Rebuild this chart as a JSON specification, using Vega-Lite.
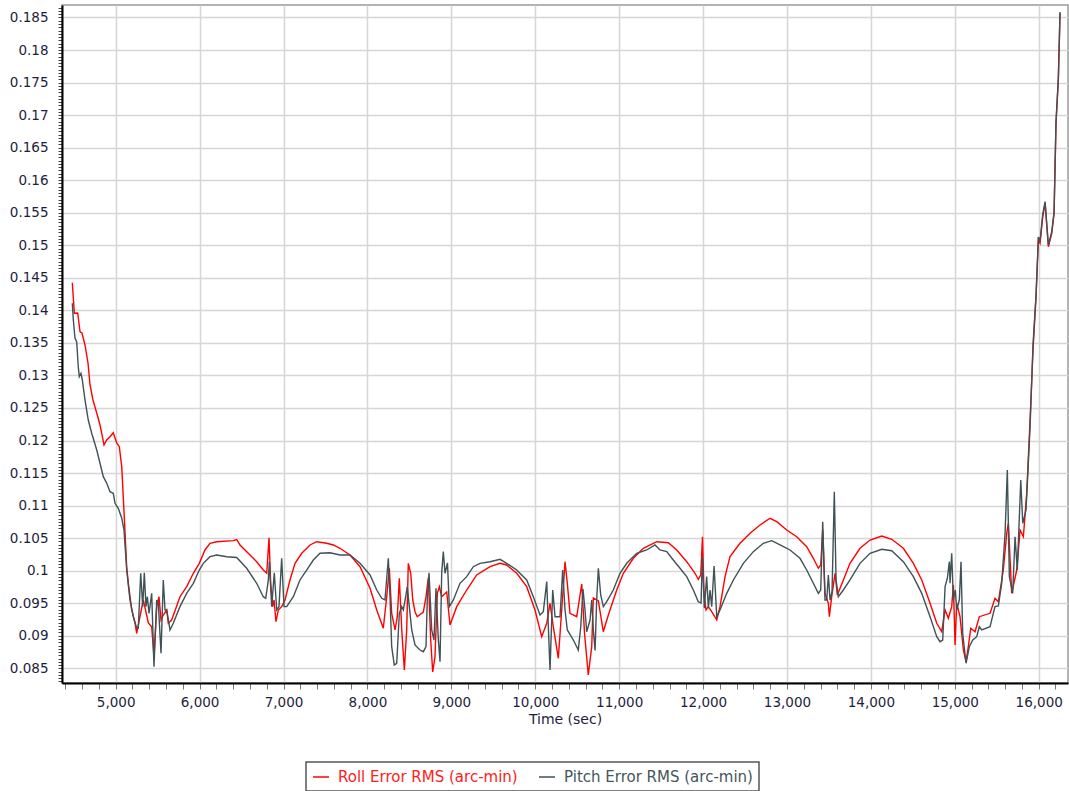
{
  "$schema": "https://vega.github.io/schema/vega-lite/v6.json",
  "width": 1006,
  "height": 678,
  "autosize": {"type": "none"},
  "padding": {"left": 62, "top": 5, "right": 1, "bottom": 108},
  "background": "white",
  "config": {
    "view": {"stroke": "#9a9a9a", "strokeWidth": 1.5},
    "font": "DejaVu Sans",
    "legend": {"strokeWidth": 1.5}
  },
  "datasets": {
    "roll": [
      {"t":4483,"v":0.14425},{"t":4507,"v":0.13955},{"t":4547,"v":0.1396},{"t":4575,"v":0.1367},{"t":4598,"v":0.13652},{"t":4634,"v":0.13468},{"t":4670,"v":0.13191},{"t":4694,"v":0.12853},{"t":4729,"v":0.12623},{"t":4774,"v":0.12423},{"t":4813,"v":0.12238},{"t":4837,"v":0.12085},{"t":4861,"v":0.11931},{"t":4893,"v":0.12008},{"t":4932,"v":0.12059},{"t":4971,"v":0.1212},{"t":5012,"v":0.11962},{"t":5043,"v":0.11905},{"t":5072,"v":0.11598},{"t":5102,"v":0.1083},{"t":5131,"v":0.10061},{"t":5150,"v":0.09811},{"t":5191,"v":0.09396},{"t":5230,"v":0.09196},{"t":5250,"v":0.09038},{"t":5281,"v":0.09242},{"t":5329,"v":0.0955},{"t":5389,"v":0.09196},{"t":5429,"v":0.09139},{"t":5456,"v":0.08678},{"t":5489,"v":0.09447},{"t":5516,"v":0.096},{"t":5540,"v":0.09242},{"t":5567,"v":0.09319},{"t":5608,"v":0.09396},{"t":5627,"v":0.09191},{"t":5667,"v":0.09242},{"t":5766,"v":0.096},{"t":5846,"v":0.09754},{"t":5925,"v":0.0996},{"t":5996,"v":0.10113},{"t":6064,"v":0.10318},{"t":6124,"v":0.10421},{"t":6204,"v":0.10445},{"t":6402,"v":0.10461},{"t":6442,"v":0.10479},{"t":6481,"v":0.10395},{"t":6580,"v":0.10267},{"t":6680,"v":0.10138},{"t":6759,"v":0.1001},{"t":6800,"v":0.0996},{"t":6827,"v":0.10507},{"t":6847,"v":0.09811},{"t":6871,"v":0.09447},{"t":6887,"v":0.0955},{"t":6910,"v":0.09216},{"t":6938,"v":0.09396},{"t":6978,"v":0.09447},{"t":7018,"v":0.0955},{"t":7077,"v":0.09857},{"t":7137,"v":0.10113},{"t":7217,"v":0.10267},{"t":7316,"v":0.10395},{"t":7395,"v":0.10445},{"t":7515,"v":0.10421},{"t":7593,"v":0.10395},{"t":7673,"v":0.10344},{"t":7792,"v":0.10241},{"t":7912,"v":0.10061},{"t":8031,"v":0.09729},{"t":8111,"v":0.09396},{"t":8189,"v":0.09115},{"t":8230,"v":0.096},{"t":8261,"v":0.10037},{"t":8289,"v":0.09345},{"t":8329,"v":0.09089},{"t":8356,"v":0.09293},{"t":8380,"v":0.09883},{"t":8409,"v":0.09089},{"t":8440,"v":0.08474},{"t":8468,"v":0.09089},{"t":8487,"v":0.10113},{"t":8516,"v":0.0996},{"t":8540,"v":0.0955},{"t":8567,"v":0.0937},{"t":8594,"v":0.09293},{"t":8666,"v":0.09365},{"t":8698,"v":0.096},{"t":8726,"v":0.09888},{"t":8754,"v":0.08935},{"t":8778,"v":0.08443},{"t":8805,"v":0.08678},{"t":8833,"v":0.09652},{"t":8857,"v":0.09754},{"t":8885,"v":0.096},{"t":8945,"v":0.09672},{"t":8984,"v":0.09165},{"t":9064,"v":0.09447},{"t":9183,"v":0.09703},{"t":9302,"v":0.09934},{"t":9461,"v":0.10061},{"t":9580,"v":0.10113},{"t":9660,"v":0.10087},{"t":9779,"v":0.0996},{"t":9898,"v":0.09754},{"t":9997,"v":0.09396},{"t":10077,"v":0.08986},{"t":10137,"v":0.09191},{"t":10176,"v":0.09499},{"t":10215,"v":0.09139},{"t":10275,"v":0.08654},{"t":10315,"v":0.09396},{"t":10355,"v":0.10138},{"t":10382,"v":0.09806},{"t":10414,"v":0.09345},{"t":10494,"v":0.09293},{"t":10554,"v":0.09795},{"t":10587,"v":0.09042},{"t":10632,"v":0.08397},{"t":10673,"v":0.08832},{"t":10692,"v":0.0958},{"t":10752,"v":0.09534},{"t":10811,"v":0.09062},{"t":10871,"v":0.09319},{"t":10971,"v":0.09703},{"t":11050,"v":0.0996},{"t":11169,"v":0.1019},{"t":11288,"v":0.10344},{"t":11448,"v":0.10445},{"t":11586,"v":0.1043},{"t":11686,"v":0.10318},{"t":11805,"v":0.10138},{"t":11904,"v":0.0996},{"t":11943,"v":0.09868},{"t":11972,"v":0.09934},{"t":11993,"v":0.10522},{"t":12011,"v":0.09652},{"t":12035,"v":0.09396},{"t":12063,"v":0.09447},{"t":12103,"v":0.0937},{"t":12163,"v":0.09242},{"t":12202,"v":0.09447},{"t":12262,"v":0.09908},{"t":12321,"v":0.10215},{"t":12440,"v":0.10421},{"t":12560,"v":0.10574},{"t":12679,"v":0.10702},{"t":12798,"v":0.10805},{"t":12878,"v":0.10753},{"t":12997,"v":0.10625},{"t":13116,"v":0.10522},{"t":13235,"v":0.10368},{"t":13314,"v":0.1019},{"t":13374,"v":0.10037},{"t":13402,"v":0.10087},{"t":13426,"v":0.10625},{"t":13453,"v":0.09652},{"t":13493,"v":0.09499},{"t":13505,"v":0.09293},{"t":13533,"v":0.096},{"t":13573,"v":0.0996},{"t":13600,"v":0.09626},{"t":13672,"v":0.09857},{"t":13751,"v":0.10113},{"t":13870,"v":0.10344},{"t":13990,"v":0.10471},{"t":14129,"v":0.10533},{"t":14248,"v":0.10482},{"t":14387,"v":0.10344},{"t":14506,"v":0.10113},{"t":14606,"v":0.09857},{"t":14705,"v":0.09499},{"t":14785,"v":0.09191},{"t":14844,"v":0.09062},{"t":14884,"v":0.09396},{"t":14923,"v":0.09268},{"t":14963,"v":0.09447},{"t":14983,"v":0.0978},{"t":15003,"v":0.08858},{"t":15023,"v":0.09499},{"t":15062,"v":0.09293},{"t":15102,"v":0.08781},{"t":15134,"v":0.08601},{"t":15161,"v":0.08832},{"t":15190,"v":0.09115},{"t":15241,"v":0.09062},{"t":15292,"v":0.09293},{"t":15420,"v":0.09345},{"t":15479,"v":0.09576},{"t":15519,"v":0.09523},{"t":15578,"v":0.1001},{"t":15619,"v":0.10574},{"t":15638,"v":0.10728},{"t":15678,"v":0.09652},{"t":15738,"v":0.1001},{"t":15778,"v":0.10625},{"t":15817,"v":0.10522},{"t":15857,"v":0.11189},{"t":15897,"v":0.12315},{"t":15932,"v":0.13391},{"t":15968,"v":0.14205},{"t":15996,"v":0.15081},{"t":16016,"v":0.1503},{"t":16048,"v":0.15439},{"t":16076,"v":0.15645},{"t":16115,"v":0.14978},{"t":16155,"v":0.15184},{"t":16183,"v":0.15491},{"t":16206,"v":0.16874},{"t":16234,"v":0.1754},{"t":16254,"v":0.18565}
    ],
    "pitch": [
      {"t":4483,"v":0.14109},{"t":4495,"v":0.13852},{"t":4515,"v":0.13571},{"t":4535,"v":0.13518},{"t":4554,"v":0.13134},{"t":4566,"v":0.12981},{"t":4586,"v":0.13033},{"t":4602,"v":0.1293},{"t":4634,"v":0.12623},{"t":4673,"v":0.12315},{"t":4714,"v":0.12111},{"t":4774,"v":0.11854},{"t":4813,"v":0.1165},{"t":4852,"v":0.11444},{"t":4893,"v":0.11343},{"t":4932,"v":0.11214},{"t":4971,"v":0.11189},{"t":4992,"v":0.11035},{"t":5031,"v":0.10958},{"t":5072,"v":0.10805},{"t":5099,"v":0.10625},{"t":5131,"v":0.1001},{"t":5170,"v":0.0955},{"t":5210,"v":0.09293},{"t":5250,"v":0.09115},{"t":5269,"v":0.09115},{"t":5298,"v":0.0996},{"t":5322,"v":0.09447},{"t":5341,"v":0.09969},{"t":5361,"v":0.09447},{"t":5377,"v":0.096},{"t":5397,"v":0.09345},{"t":5429,"v":0.09652},{"t":5456,"v":0.08525},{"t":5489,"v":0.0955},{"t":5508,"v":0.09499},{"t":5540,"v":0.0873},{"t":5567,"v":0.09857},{"t":5588,"v":0.09396},{"t":5608,"v":0.09396},{"t":5647,"v":0.09089},{"t":5686,"v":0.09191},{"t":5766,"v":0.09447},{"t":5846,"v":0.09652},{"t":5925,"v":0.09806},{"t":5996,"v":0.1001},{"t":6044,"v":0.10113},{"t":6124,"v":0.10215},{"t":6204,"v":0.10241},{"t":6323,"v":0.10215},{"t":6442,"v":0.10203},{"t":6561,"v":0.10037},{"t":6680,"v":0.09806},{"t":6759,"v":0.096},{"t":6788,"v":0.09576},{"t":6819,"v":0.09857},{"t":6831,"v":0.10138},{"t":6859,"v":0.09447},{"t":6890,"v":0.09969},{"t":6919,"v":0.09396},{"t":6946,"v":0.09447},{"t":6978,"v":0.1019},{"t":7006,"v":0.09447},{"t":7038,"v":0.09447},{"t":7117,"v":0.096},{"t":7196,"v":0.09857},{"t":7276,"v":0.1001},{"t":7355,"v":0.10164},{"t":7435,"v":0.10267},{"t":7554,"v":0.10276},{"t":7673,"v":0.10241},{"t":7792,"v":0.10241},{"t":7912,"v":0.10113},{"t":8031,"v":0.09934},{"t":8111,"v":0.09703},{"t":8170,"v":0.09576},{"t":8209,"v":0.0955},{"t":8249,"v":0.1019},{"t":8269,"v":0.096},{"t":8289,"v":0.08832},{"t":8320,"v":0.08551},{"t":8349,"v":0.08577},{"t":8380,"v":0.09345},{"t":8409,"v":0.09447},{"t":8428,"v":0.09396},{"t":8456,"v":0.096},{"t":8475,"v":0.09754},{"t":8499,"v":0.09447},{"t":8528,"v":0.09089},{"t":8567,"v":0.08858},{"t":8626,"v":0.08781},{"t":8666,"v":0.08755},{"t":8698,"v":0.08832},{"t":8714,"v":0.096},{"t":8734,"v":0.09969},{"t":8766,"v":0.09089},{"t":8793,"v":0.08935},{"t":8817,"v":0.09729},{"t":8845,"v":0.08935},{"t":8865,"v":0.08601},{"t":8885,"v":0.0996},{"t":8904,"v":0.10292},{"t":8925,"v":0.0996},{"t":8954,"v":0.10118},{"t":8976,"v":0.09447},{"t":9024,"v":0.0955},{"t":9103,"v":0.09806},{"t":9183,"v":0.09908},{"t":9262,"v":0.10061},{"t":9342,"v":0.10113},{"t":9461,"v":0.10138},{"t":9580,"v":0.10175},{"t":9660,"v":0.10113},{"t":9779,"v":0.1001},{"t":9898,"v":0.09857},{"t":9977,"v":0.096},{"t":10057,"v":0.09319},{"t":10096,"v":0.0937},{"t":10137,"v":0.09831},{"t":10156,"v":0.09139},{"t":10176,"v":0.08474},{"t":10208,"v":0.09703},{"t":10236,"v":0.09293},{"t":10295,"v":0.09293},{"t":10327,"v":0.1001},{"t":10355,"v":0.09396},{"t":10382,"v":0.09089},{"t":10454,"v":0.08935},{"t":10513,"v":0.08781},{"t":10542,"v":0.09139},{"t":10569,"v":0.09718},{"t":10593,"v":0.09396},{"t":10613,"v":0.09062},{"t":10653,"v":0.09242},{"t":10673,"v":0.0955},{"t":10692,"v":0.09089},{"t":10713,"v":0.08774},{"t":10732,"v":0.0955},{"t":10752,"v":0.10037},{"t":10780,"v":0.09626},{"t":10811,"v":0.09447},{"t":10852,"v":0.09523},{"t":10930,"v":0.09703},{"t":11010,"v":0.0996},{"t":11090,"v":0.10113},{"t":11209,"v":0.10267},{"t":11328,"v":0.10318},{"t":11427,"v":0.10395},{"t":11487,"v":0.10318},{"t":11567,"v":0.10292},{"t":11645,"v":0.10164},{"t":11725,"v":0.10037},{"t":11805,"v":0.09908},{"t":11884,"v":0.09703},{"t":11943,"v":0.09523},{"t":11976,"v":0.09503},{"t":11991,"v":0.10215},{"t":12015,"v":0.09422},{"t":12043,"v":0.09908},{"t":12063,"v":0.09422},{"t":12083,"v":0.09703},{"t":12103,"v":0.09447},{"t":12131,"v":0.10072},{"t":12163,"v":0.09293},{"t":12202,"v":0.09396},{"t":12282,"v":0.09652},{"t":12361,"v":0.09857},{"t":12480,"v":0.10113},{"t":12599,"v":0.10292},{"t":12718,"v":0.10421},{"t":12818,"v":0.10461},{"t":12917,"v":0.10395},{"t":13036,"v":0.10318},{"t":13155,"v":0.1019},{"t":13235,"v":0.1001},{"t":13314,"v":0.09806},{"t":13374,"v":0.09652},{"t":13402,"v":0.09703},{"t":13426,"v":0.10753},{"t":13453,"v":0.0955},{"t":13474,"v":0.0955},{"t":13493,"v":0.09934},{"t":13513,"v":0.0955},{"t":13537,"v":0.09672},{"t":13564,"v":0.11214},{"t":13585,"v":0.09857},{"t":13612,"v":0.096},{"t":13672,"v":0.09703},{"t":13751,"v":0.09857},{"t":13870,"v":0.10113},{"t":13990,"v":0.10267},{"t":14129,"v":0.10329},{"t":14248,"v":0.10307},{"t":14387,"v":0.10138},{"t":14506,"v":0.09908},{"t":14606,"v":0.09652},{"t":14705,"v":0.09293},{"t":14785,"v":0.08986},{"t":14824,"v":0.08909},{"t":14856,"v":0.08935},{"t":14884,"v":0.09754},{"t":14911,"v":0.09883},{"t":14935,"v":0.10138},{"t":14943,"v":0.09806},{"t":14963,"v":0.10267},{"t":14983,"v":0.0955},{"t":15006,"v":0.09703},{"t":15023,"v":0.09396},{"t":15054,"v":0.0955},{"t":15074,"v":0.10138},{"t":15094,"v":0.09038},{"t":15134,"v":0.08577},{"t":15173,"v":0.08832},{"t":15214,"v":0.08935},{"t":15261,"v":0.08986},{"t":15292,"v":0.09139},{"t":15321,"v":0.09089},{"t":15420,"v":0.09139},{"t":15479,"v":0.09447},{"t":15519,"v":0.09457},{"t":15559,"v":0.09806},{"t":15599,"v":0.10574},{"t":15626,"v":0.11547},{"t":15650,"v":0.09908},{"t":15690,"v":0.09652},{"t":15718,"v":0.10522},{"t":15745,"v":0.1001},{"t":15786,"v":0.11393},{"t":15810,"v":0.10728},{"t":15849,"v":0.10932},{"t":15897,"v":0.12212},{"t":15932,"v":0.13468},{"t":15968,"v":0.14236},{"t":15996,"v":0.15127},{"t":16016,"v":0.15066},{"t":16048,"v":0.1548},{"t":16076,"v":0.1567},{"t":16115,"v":0.15004},{"t":16155,"v":0.15204},{"t":16183,"v":0.15511},{"t":16206,"v":0.16892},{"t":16234,"v":0.17571},{"t":16254,"v":0.18585}
    ]
  },
  "encoding": {
    "x": {
      "field": "t",
      "type": "quantitative",
      "scale": {"domain": [4360, 16349], "nice": false, "zero": false},
      "axis": {
        "values": [4400,4600,4800,5000,5200,5400,5600,5800,6000,6200,6400,6600,6800,7000,7200,7400,7600,7800,8000,8200,8400,8600,8800,9000,9200,9400,9600,9800,10000,10200,10400,10600,10800,11000,11200,11400,11600,11800,12000,12200,12400,12600,12800,13000,13200,13400,13600,13800,14000,14200,14400,14600,14800,15000,15200,15400,15600,15800,16000,16200],
        "labelExpr": "datum.value % 1000 === 0 ? format(datum.value, ',') : ''",
        "labelFont": "DejaVu Sans",
        "labelFontSize": 13.5,
        "labelColor": "#1e1e3c",
        "labelPadding": 6,
        "labelOverlap": false,
        "labelFlush": false,
        "labelBound": false,
        "domainColor": "#000000",
        "domainWidth": 2,
        "tickColor": "#777777",
        "tickSize": 6,
        "tickWidth": 1,
        "grid": true,
        "gridColor": "#d6d6d6",
        "gridWidth": 1.5,
        "gridOpacity": {"condition": {"test": "datum.value % 1000 === 0", "value": 1}, "value": 0},
        "title": "Time (sec)",
        "titleFont": "DejaVu Sans",
        "titleFontSize": 14,
        "titleFontWeight": "normal",
        "titleColor": "#1e1e3c",
        "titlePadding": 4
      }
    },
    "y": {
      "field": "v",
      "type": "quantitative",
      "scale": {"domain": [0.08274, 0.18692], "nice": false, "zero": false},
      "axis": {
        "values": [0.083,0.0835,0.084,0.0845,0.085,0.0855,0.086,0.0865,0.087,0.0875,0.088,0.0885,0.089,0.0895,0.09,0.0905,0.091,0.0915,0.092,0.0925,0.093,0.0935,0.094,0.0945,0.095,0.0955,0.096,0.0965,0.097,0.0975,0.098,0.0985,0.099,0.0995,0.1,0.1005,0.101,0.1015,0.102,0.1025,0.103,0.1035,0.104,0.1045,0.105,0.1055,0.106,0.1065,0.107,0.1075,0.108,0.1085,0.109,0.1095,0.11,0.1105,0.111,0.1115,0.112,0.1125,0.113,0.1135,0.114,0.1145,0.115,0.1155,0.116,0.1165,0.117,0.1175,0.118,0.1185,0.119,0.1195,0.12,0.1205,0.121,0.1215,0.122,0.1225,0.123,0.1235,0.124,0.1245,0.125,0.1255,0.126,0.1265,0.127,0.1275,0.128,0.1285,0.129,0.1295,0.13,0.1305,0.131,0.1315,0.132,0.1325,0.133,0.1335,0.134,0.1345,0.135,0.1355,0.136,0.1365,0.137,0.1375,0.138,0.1385,0.139,0.1395,0.14,0.1405,0.141,0.1415,0.142,0.1425,0.143,0.1435,0.144,0.1445,0.145,0.1455,0.146,0.1465,0.147,0.1475,0.148,0.1485,0.149,0.1495,0.15,0.1505,0.151,0.1515,0.152,0.1525,0.153,0.1535,0.154,0.1545,0.155,0.1555,0.156,0.1565,0.157,0.1575,0.158,0.1585,0.159,0.1595,0.16,0.1605,0.161,0.1615,0.162,0.1625,0.163,0.1635,0.164,0.1645,0.165,0.1655,0.166,0.1665,0.167,0.1675,0.168,0.1685,0.169,0.1695,0.17,0.1705,0.171,0.1715,0.172,0.1725,0.173,0.1735,0.174,0.1745,0.175,0.1755,0.176,0.1765,0.177,0.1775,0.178,0.1785,0.179,0.1795,0.18,0.1805,0.181,0.1815,0.182,0.1825,0.183,0.1835,0.184,0.1845,0.185,0.1855,0.186,0.1865],
        "labelExpr": "abs(datum.value * 200 - round(datum.value * 200)) < 0.001 ? format(datum.value, '.3~f') : ''",
        "labelFont": "DejaVu Sans",
        "labelFontSize": 13.5,
        "labelColor": "#1e1e3c",
        "labelPadding": 10,
        "labelOverlap": false,
        "labelFlush": false,
        "labelBound": false,
        "domainColor": "#000000",
        "domainWidth": 2,
        "tickColor": "#444444",
        "tickSize": 4,
        "tickWidth": 1,
        "grid": true,
        "gridColor": "#d6d6d6",
        "gridWidth": 1.5,
        "gridOpacity": {"condition": {"test": "abs(datum.value * 200 - round(datum.value * 200)) < 0.001", "value": 1}, "value": 0},
        "title": null
      }
    }
  },
  "layer": [
    {
      "data": {"name": "roll"},
      "mark": {"type": "line", "strokeWidth": 1.4, "interpolate": "linear"},
      "encoding": {
        "color": {
          "datum": "Roll Error RMS (arc-min)",
          "type": "nominal",
          "scale": {"domain": ["Roll Error RMS (arc-min)", "Pitch Error RMS (arc-min)"], "range": ["#ff0000", "#3e5257"]},
          "legend": {
            "title": null,
            "orient": "none",
            "legendX": 244,
            "legendY": 757,
            "direction": "horizontal",
            "strokeColor": "#555555",
            "padding": 6,
            "symbolType": "stroke",
            "symbolSize": 256,
            "symbolStrokeWidth": 1.5,
            "labelFont": "DejaVu Sans",
            "labelFontSize": 15,
            "labelOffset": 8,
            "columnPadding": 18,
            "labelLimit": 400,
            "encode": {
              "labels": {"update": {"fill": {"signal": "datum.label === 'Roll Error RMS (arc-min)' ? '#ff2020' : '#44565c'"}}}
            }
          }
        }
      }
    },
    {
      "data": {"name": "pitch"},
      "mark": {"type": "line", "strokeWidth": 1.4, "interpolate": "linear"},
      "encoding": {
        "color": {"datum": "Pitch Error RMS (arc-min)", "type": "nominal"}
      }
    }
  ]
}
